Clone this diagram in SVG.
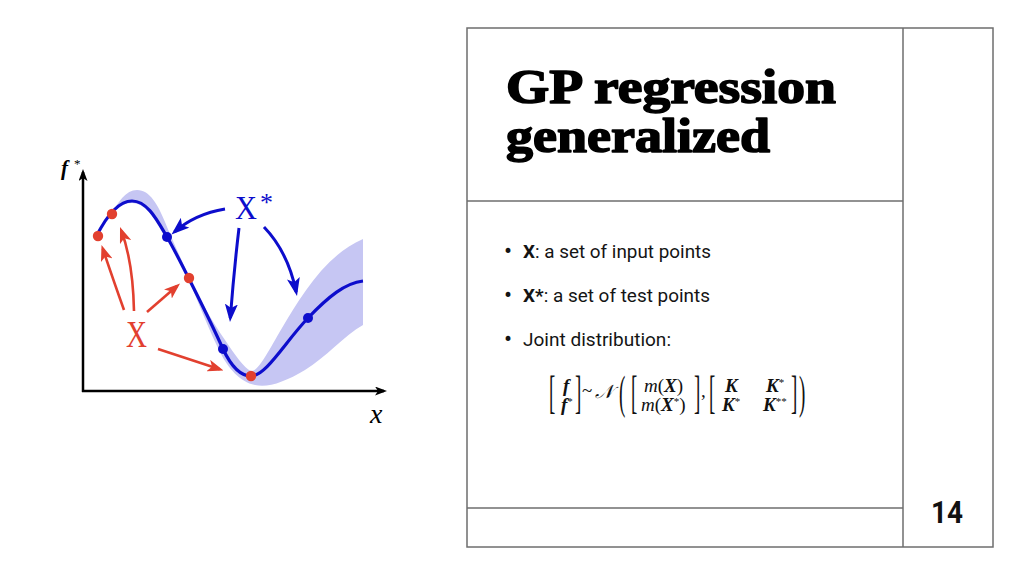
<svg xmlns="http://www.w3.org/2000/svg" width="1024" height="576" viewBox="0 0 1024 576">
<style>
.frame{fill:none;stroke:#6e6e6e;stroke-width:1.5}
.title{font-family:"Liberation Serif","DejaVu Serif",serif;font-weight:bold;font-size:48px;fill:#000;stroke:#000;stroke-width:1.6;stroke-linejoin:round}
.body{font-family:Roboto,"Liberation Sans",sans-serif;font-size:19px;fill:#141414}
.dot{font-family:Roboto,"Liberation Sans",sans-serif;font-size:24px;fill:#141414}
.m{font-family:"Liberation Serif","DejaVu Serif",serif;font-size:19px;fill:#111}
.bi{font-weight:bold;font-style:italic}
.it{font-style:italic}
.up{font-weight:normal;font-style:normal}
.sup{font-size:11px}
.ser{font-family:"Liberation Serif","DejaVu Serif",serif}
.ra{fill:none;stroke:#e2402f;stroke-width:2.6;marker-end:url(#hr)}
.ba{fill:none;stroke:#0d0dcc;stroke-width:3;marker-end:url(#hb)}
.axis{fill:none;stroke:#000;stroke-width:2.5;marker-end:url(#hk)}
.rd{fill:#e2402f}
.bd{fill:#0d0dcc}
</style>
<defs>
<marker id="hr" viewBox="0 0 16 12" refX="12" refY="6" markerWidth="16" markerHeight="12" markerUnits="userSpaceOnUse" orient="auto"><path d="M0,0 L16,6 L0,12 L4,6 Z" fill="#e2402f"/></marker>
<marker id="hb" viewBox="0 0 18 13" refX="14" refY="6.5" markerWidth="18" markerHeight="13" markerUnits="userSpaceOnUse" orient="auto"><path d="M0,0 L18,6.5 L0,13 L4,6.5 Z" fill="#0d0dcc"/></marker>
<marker id="hk" viewBox="0 0 12 9" refX="9" refY="4.5" markerWidth="12" markerHeight="9" markerUnits="userSpaceOnUse" orient="auto"><path d="M0,0 L12,4.5 L0,9 L3,4.5 Z" fill="#000"/></marker>
</defs>
<rect width="1024" height="576" fill="#fff"/>

<g id="frame">
<rect class="frame" x="467" y="28" width="526" height="519"/>
<line class="frame" x1="903" y1="28" x2="903" y2="547"/>
<line class="frame" x1="467" y1="201" x2="903" y2="201"/>
<line class="frame" x1="467" y1="508" x2="903" y2="508"/>
</g>

<g id="chart">
<path d="M112,214 C118,202 126,190 137,190 C150,190 158,205 165,222 C172,240 182,260 189,277 C198,295 212,322 225,340 C235,355 244,368 251,371 C258,372 268,352 282,328 C300,298 325,255 363,239 L363,325 C345,335 325,358 305,370 C285,382 268,388 255,385 C240,382 228,368 220,352 C210,332 198,302 189,280 C180,262 170,245 165,235 C155,218 145,203 132,203 C122,203 116,208 112,214 Z" fill="#c6c6f3"/>
<line class="axis" x1="83" y1="392" x2="83" y2="172"/>
<line class="axis" x1="82" y1="391" x2="384" y2="391"/>
<path d="M96,237 C104,221 117,201 132,201 C148,201 158,222 167,237 C176,252 210,320 223,349 C231,366 240,376 251,376 C266,376 285,342 308,318 C328,297 345,283 363,281" fill="none" stroke="#0d0dcc" stroke-width="3.2"/>
<circle class="rd" cx="98" cy="236" r="5.2"/>
<circle class="rd" cx="112" cy="214" r="5.2"/>
<circle class="rd" cx="189" cy="278" r="5.2"/>
<circle class="rd" cx="251" cy="376" r="5.2"/>
<circle class="bd" cx="167" cy="237" r="5"/>
<circle class="bd" cx="223" cy="349" r="5"/>
<circle class="bd" cx="308" cy="318" r="5"/>
<text class="ser" x="126" y="347" font-size="38" fill="#e2402f" textLength="21" lengthAdjust="spacingAndGlyphs">X</text>
<text class="ser" x="235" y="218.5" font-size="34" fill="#0d0dcc" textLength="22" lengthAdjust="spacingAndGlyphs">X</text>
<text class="ser" x="260" y="211" font-size="26" fill="#0d0dcc">*</text>
<text class="ser bi" x="61" y="175" font-size="21" fill="#000">f</text>
<text class="ser" x="74" y="168" font-size="13" fill="#000">*</text>
<text class="ser it" x="370" y="423" font-size="28" fill="#000">x</text>
</g>

<g id="connectors">
<path class="ra" d="M124,310 Q114,282 102.8,248.8"/>
<path class="ra" d="M134,311 Q133,262 121.4,230.8"/>
<path class="ra" d="M147,312 L177,286.1"/>
<path class="ra" d="M158,349 L219.7,369.3"/>
<path class="ba" d="M225,209 Q195,214 174.5,231.9"/>
<path class="ba" d="M239,228 Q234,270 230.3,318"/>
<path class="ba" d="M264,227 Q288,252 296.2,292"/>
</g>

<g id="title">
<text class="title" x="506" y="103" textLength="330" lengthAdjust="spacingAndGlyphs">GP regression</text>
<text class="title" x="506" y="152" textLength="264" lengthAdjust="spacingAndGlyphs">generalized</text>
</g>

<g id="bullets">
<text class="dot" x="504" y="259">•</text>
<text class="body" x="523" y="258" textLength="188" lengthAdjust="spacingAndGlyphs"><tspan font-weight="bold">X</tspan>: a set of input points</text>
<text class="dot" x="504" y="303">•</text>
<text class="body" x="523" y="302" textLength="187" lengthAdjust="spacingAndGlyphs"><tspan font-weight="bold">X*</tspan>: a set of test points</text>
<text class="dot" x="504" y="347">•</text>
<text class="body" x="523" y="346" textLength="148" lengthAdjust="spacingAndGlyphs">Joint distribution:</text>
</g>

<g id="formula">
<text class="m" transform="translate(549,408) scale(1,2.45)">[</text>
<text class="m bi" x="563" y="392">f</text>
<text class="m bi" x="561" y="411">f<tspan class="sup up" dy="-6">*</tspan></text>
<text class="m" transform="translate(575,408) scale(1,2.45)">]</text>
<text class="m" x="582" y="397">~</text>
<text class="m it" x="595" y="398" font-size="23">𝒩</text>
<text class="m" transform="translate(619,408) scale(1,2.45)">(</text>
<text class="m" transform="translate(631,408) scale(1,2.45)">[</text>
<text class="m" x="644" y="392"><tspan class="it">m</tspan>(<tspan class="bi">X</tspan>)</text>
<text class="m" x="641" y="411"><tspan class="it">m</tspan>(<tspan class="bi">X</tspan><tspan class="sup" dy="-6">*</tspan><tspan dy="6">)</tspan></text>
<text class="m" transform="translate(694,408) scale(1,2.45)">]</text>
<text class="m" x="701" y="397">,</text>
<text class="m" transform="translate(709,408) scale(1,2.45)">[</text>
<text class="m bi" x="725" y="392">K</text>
<text class="m bi" x="722" y="411">K<tspan class="sup up" dy="-6">*</tspan></text>
<text class="m bi" x="766" y="392">K<tspan class="sup up" dy="-6">*</tspan></text>
<text class="m bi" x="763" y="411">K<tspan class="sup up" dy="-6">**</tspan></text>
<text class="m" transform="translate(791,408) scale(1,2.45)">]</text>
<text class="m" transform="translate(799,408) scale(1,2.45)">)</text>
</g>

<g id="page-number">
<text x="931" y="523" font-family="Roboto,'Liberation Sans',sans-serif" font-weight="bold" font-size="32" fill="#111" textLength="32" lengthAdjust="spacingAndGlyphs">14</text>
</g>
</svg>
